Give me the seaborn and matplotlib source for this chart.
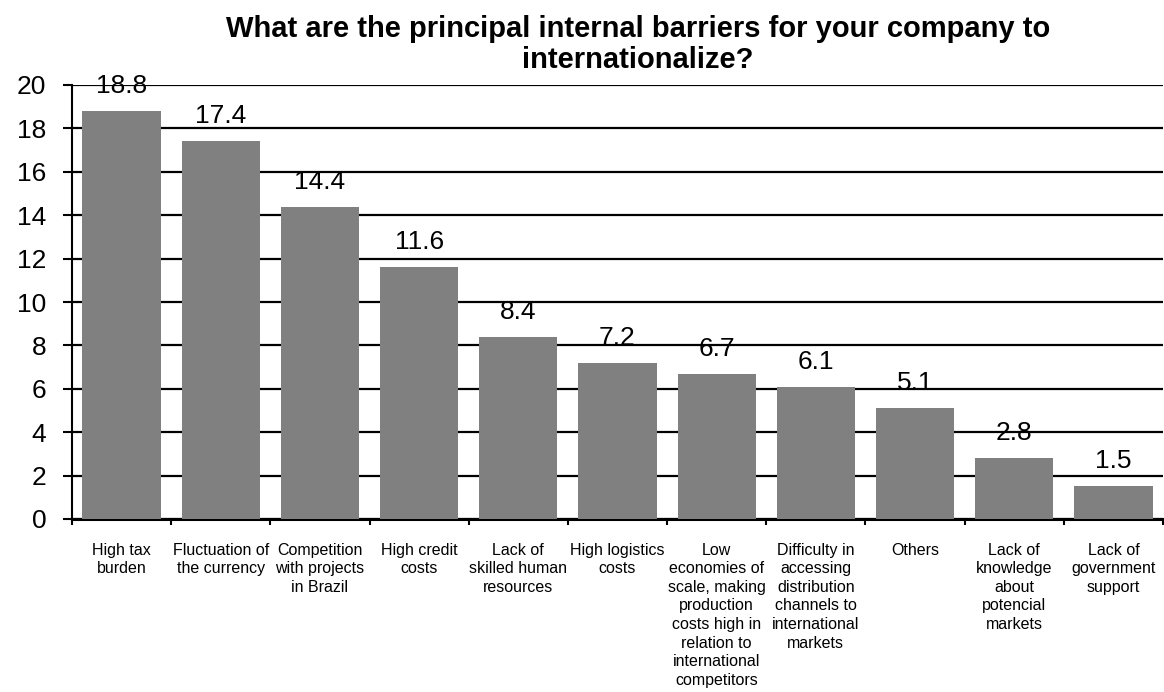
import matplotlib
matplotlib.use("Agg")
import matplotlib.pyplot as plt
import seaborn as sns
import pandas as pd

categories = [
    "High tax\nburden",
    "Fluctuation of\nthe currency",
    "Competition\nwith projects\nin Brazil",
    "High credit\ncosts",
    "Lack of\nskilled human\nresources",
    "High logistics\ncosts",
    "Low\neconomies of\nscale, making\nproduction\ncosts high in\nrelation to\ninternational\ncompetitors",
    "Difficulty in\naccessing\ndistribution\nchannels to\ninternational\nmarkets",
    "Others",
    "Lack of\nknowledge\nabout\npotencial\nmarkets",
    "Lack of\ngovernment\nsupport",
]
values = [18.8, 17.4, 14.4, 11.6, 8.4, 7.2, 6.7, 6.1, 5.1, 2.8, 1.5]
y_ticks = [0, 2, 4, 6, 8, 10, 12, 14, 16, 18, 20]
title = "What are the principal internal barriers for your company to\ninternationalize?"

sns.set_style("white")
plt.rcParams['font.family'] = ['Liberation Sans', 'DejaVu Sans']
plt.rcParams['text.color'] = 'black'
plt.rcParams['xtick.color'] = 'black'
plt.rcParams['ytick.color'] = 'black'
plt.rcParams['axes.labelcolor'] = 'black'

df = pd.DataFrame({"cat": categories, "val": values})

fig = plt.figure(figsize=(11.64, 6.92), dpi=100)
ax = fig.add_axes([72/1164, 173/692, (1163-72)/1164, (519-85)/692])

sns.barplot(data=df, x="cat", y="val", color="#808080", width=0.79,
            saturation=1, ax=ax, zorder=3, edgecolor='none', linewidth=0)

ax.set_ylim(0, 20)
ax.set_xlim(-0.5, len(values) - 0.5)
ax.set_yticks(y_ticks)
ax.set_yticklabels([str(t) for t in y_ticks], fontsize=19)
ax.yaxis.grid(True, color="black", linewidth=1.6, zorder=0)
ax.set_axisbelow(True)
ax.tick_params(axis='y', direction='out', length=6.5, width=1.5, pad=12, left=True)

ax.set_xticks(range(len(values)))
ax.set_xticklabels(categories, fontsize=11.5, linespacing=1.3, va='top')
ax.tick_params(axis='x', length=0, pad=17)
ax.set_xticks([i - 0.5 for i in range(len(values) + 1)], minor=True)
ax.tick_params(axis='x', which='minor', direction='out', length=4.3, width=1.5, bottom=True)

for s in ['top', 'right']:
    ax.spines[s].set_visible(False)
ax.spines['left'].set_linewidth(1.5)
ax.spines['bottom'].set_linewidth(2.2)
ax.spines['left'].set_color('black')
ax.spines['bottom'].set_color('black')
ax.set_xlabel("")
ax.set_ylabel("")

for i, v in enumerate(values):
    ax.annotate(f"{v}", (i, v), xytext=(0, 18), textcoords='offset pixels',
                ha='center', va='baseline', fontsize=19, zorder=5)

fig.text(638/1164, 1 - 15/692, title, ha='center', va='top', fontsize=21,
         fontweight='bold', linespacing=1.15)

fig.savefig("out.png", dpi=100)
